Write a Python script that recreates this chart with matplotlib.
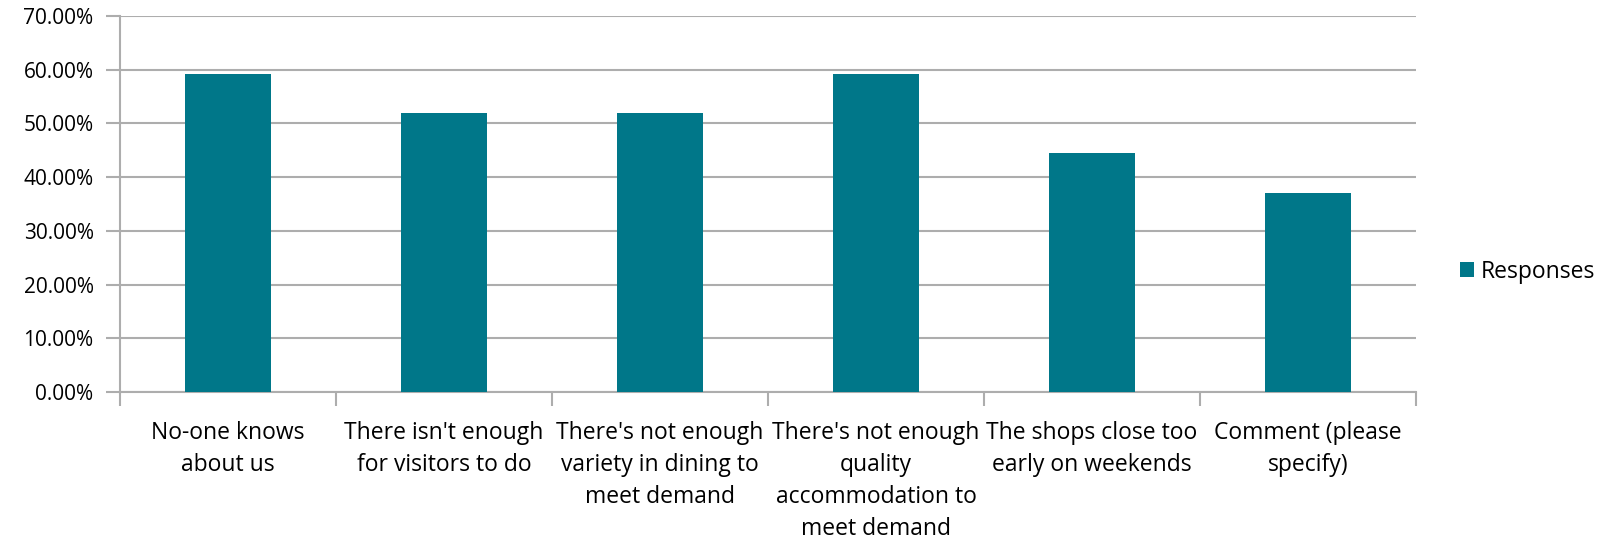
import matplotlib
matplotlib.use("Agg")
import matplotlib.pyplot as plt
from matplotlib.ticker import FuncFormatter, MultipleLocator

categories = [
    "No-one knows\nabout us",
    "There isn't enough\nfor visitors to do",
    "There's not enough\nvariety in dining to\nmeet demand",
    "There's not enough\nquality\naccommodation to\nmeet demand",
    "The shops close too\nearly on weekends",
    "Comment (please\nspecify)",
]
responses = [59.26, 51.85, 51.85, 59.26, 44.44, 37.04]
series_name = "Responses"

bar_color = "#007789"
grid_color = "#ADADAD"
plt.rcParams['font.family'] = ['Open Sans', 'DejaVu Sans']

fig = plt.figure(figsize=(15.99, 5.39), dpi=100)
ax = fig.add_axes([120/1599, 1-392/539, (1416-120)/1599, (392-16)/539])

x = list(range(len(categories)))
ax.bar(x, responses, width=0.4, color=bar_color, label=series_name, zorder=3)

ax.set_xlim(-0.5, len(categories) - 0.5)
ax.set_ylim(0, 70)
ax.yaxis.set_major_locator(MultipleLocator(10))
ax.yaxis.set_major_formatter(FuncFormatter(lambda v, p: f"{v:.2f}%"))
ax.grid(axis='y', color=grid_color, linewidth=1.5, zorder=0)

ax.set_xticks([i - 0.5 for i in range(len(categories) + 1)], minor=False)
ax.set_xticklabels([])
ax.set_xticks(x, minor=True)
ax.set_xticklabels(categories, minor=True, fontsize=16.5, linespacing=1.44)
ax.tick_params(axis='x', which='minor', length=0, pad=21)
ax.tick_params(axis='x', which='major', length=10, width=1.5, color=grid_color)
ax.tick_params(axis='y', length=10, width=1.5, color=grid_color, pad=9,
               labelsize=15)

for s in ['top', 'right']:
    ax.spines[s].set_visible(False)
for s in ['left', 'bottom']:
    ax.spines[s].set_color(grid_color)
    ax.spines[s].set_linewidth(1.5)

ax.legend(loc='center left', bbox_to_anchor=(1.018, 0.32),
          frameon=False, fontsize=16.5, handlelength=0.6, handleheight=0.6,
          handletextpad=0.32)

fig.savefig("out.png", dpi=100)
